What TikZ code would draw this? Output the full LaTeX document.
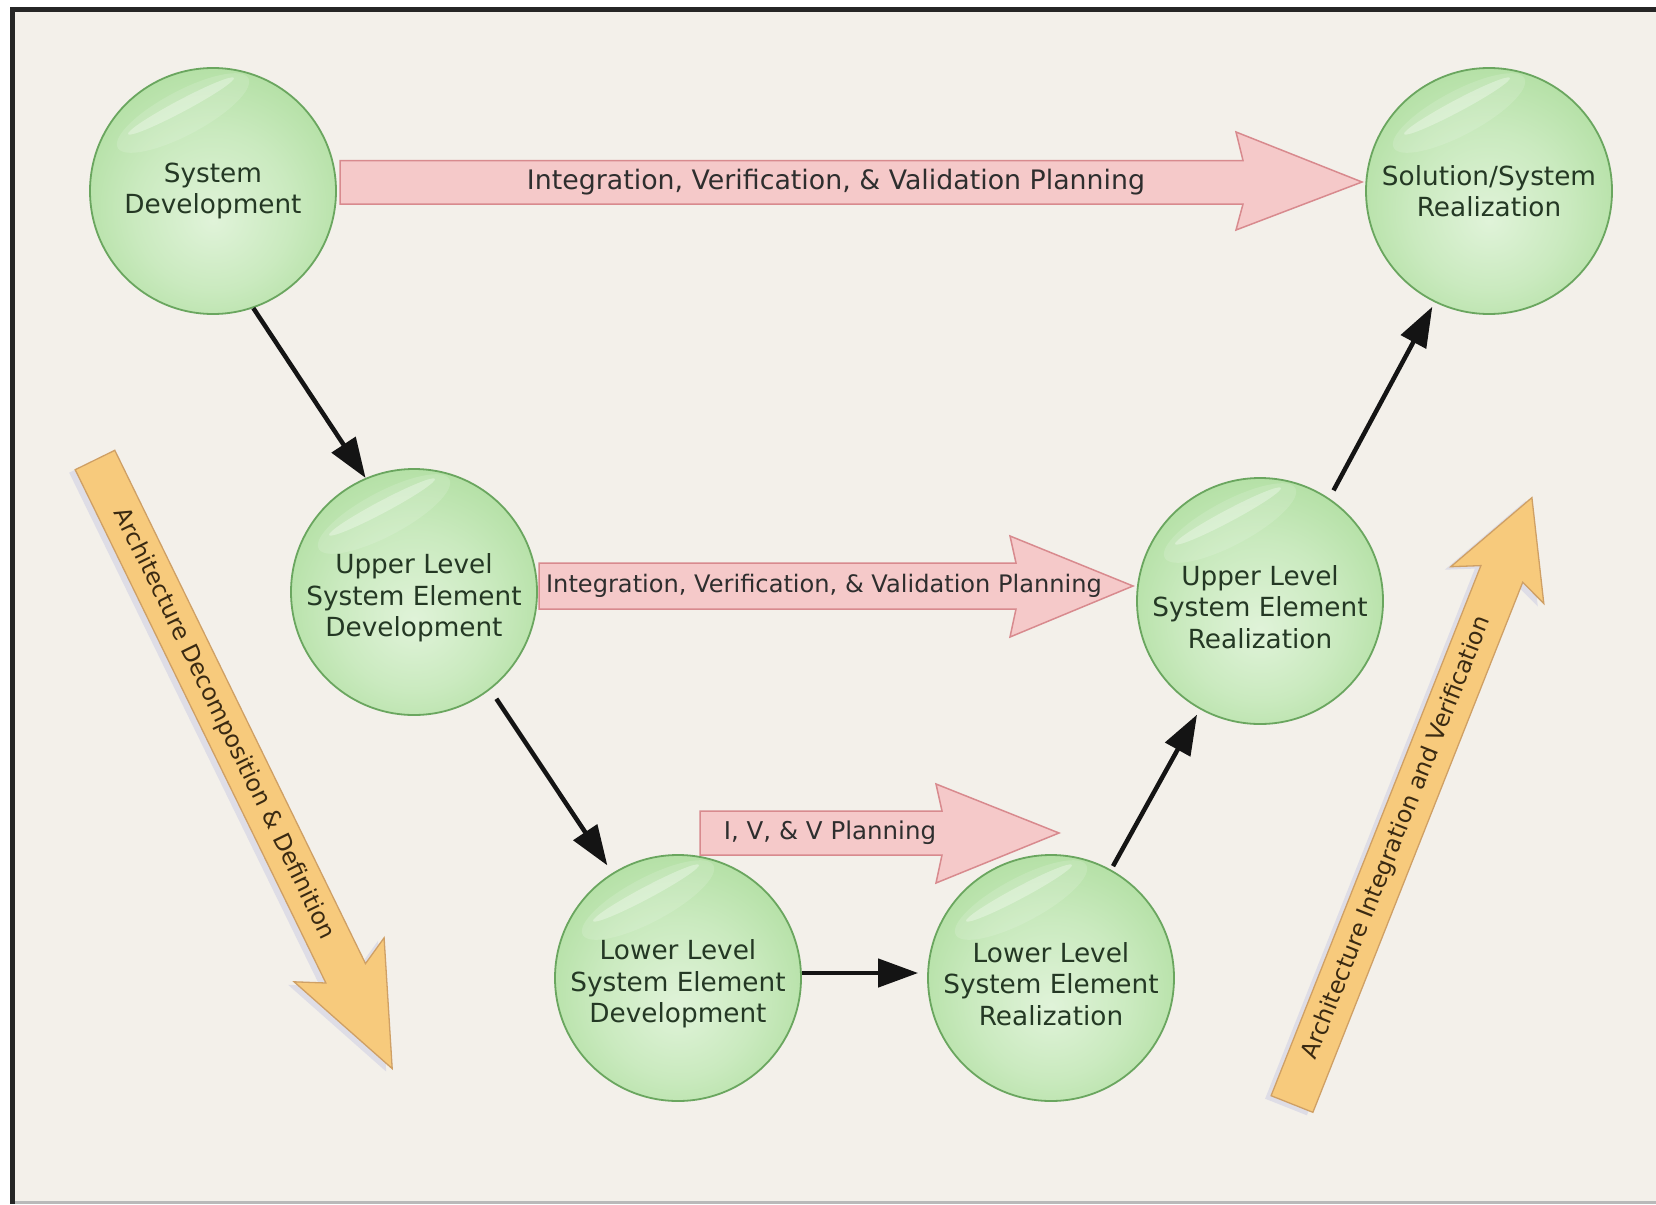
\documentclass[tikz,border=0pt]{standalone}
\usepackage{fontspec}
\setmainfont{DejaVu Sans}
\usetikzlibrary{arrows.meta,calc}
\definecolor{bgc}{HTML}{F3F0EA}
\definecolor{framec}{HTML}{262626}
\definecolor{ballA}{HTML}{E0F3D9}
\definecolor{ballB}{HTML}{CAEABF}
\definecolor{ballC}{HTML}{A6DA95}
\definecolor{ballD}{HTML}{8CCD7B}
\definecolor{ballrim}{HTML}{6AA65F}
\definecolor{txtgreen}{HTML}{243824}
\definecolor{pinkfill}{HTML}{F5C9C9}
\definecolor{pinkrim}{HTML}{D88A8E}
\definecolor{orfill}{HTML}{F7CA7C}
\definecolor{orrim}{HTML}{CFA065}
\definecolor{shadowc}{HTML}{DEDDE6}
\definecolor{arrowk}{HTML}{141414}
\definecolor{txtdark}{HTML}{2E2E2E}
\definecolor{txtbrown}{HTML}{3A2A12}
\pgfdeclareradialshading{ballshade}{\pgfpoint{0bp}{-6bp}}{color(0bp)=(ballA); color(16bp)=(ballB); color(36bp)=(ballC); color(50bp)=(ballD)}
\newcommand\glossball[1]{%
  \fill[white, fill opacity=0.14, shift={($(#1.center)+(-30,-78)$)}, rotate=28] (0,0) ellipse [x radius=74pt, y radius=22pt];
  \fill[white, fill opacity=0.32, shift={($(#1.center)+(-32,-85)$)}, rotate=28] (0,0) ellipse [x radius=60pt, y radius=6pt];
}
\begin{document}
\begin{tikzpicture}[x=1pt,y=-1pt,
  ball/.style={circle, minimum size=246pt, inner sep=0pt, draw=ballrim, line width=1.8pt, shading=ballshade},
  balltext/.style={align=center, font=\fontsize{26.3}{31.5}\selectfont, text=txtgreen, inner sep=0pt},
  pinkarrow/.style={fill=pinkfill, draw=pinkrim, line width=1.5pt, line join=miter},
  orarrow/.style={fill=orfill, draw=orrim, line width=1.3pt, line join=miter},
  pinktext/.style={text=txtdark, inner sep=0pt},
  ortext/.style={text=txtbrown, inner sep=0pt, font=\fontsize{23.6}{27}\selectfont},
  conn/.style={line width=4.5pt, draw=arrowk, -{Triangle[length=40pt,width=28pt]}}]
\useasboundingbox (0,0) rectangle (1656,1204);
% frame and background
\fill[white] (0,0) rectangle (1656,1204);
\fill[bgc] (15,12) rectangle (1656,1201);
\fill[gray!55] (15,1201) rectangle (1656,1204);
\fill[framec] (10,7) rectangle (15,1204);
\fill[framec] (10,7) rectangle (1656,12);

% orange arrows (shadow + arrow)
\fill[shadowc] (108.8,453.3) -- (359.5,966.6) -- (378.1,940.8) -- (386.2,1071.6) -- (288.1,984.8) -- (319.9,986) -- (69.2,472.7) -- cycle;
\draw[orarrow] (114.8,450.3) -- (365.5,963.6) -- (384.1,937.8) -- (392.2,1068.6) -- (294.1,981.8) -- (325.9,983) -- (75.2,469.7) -- cycle;
\node[ortext, rotate=-64] (adtext) at (224,724) {Architecture Decomposition \& Definition};

\fill[shadowc] (1306.9,1115.3) -- (1516.7,585.2) -- (1537.8,606.5) -- (1525.9,500.6) -- (1444.8,569.7) -- (1474.9,568.6) -- (1265.1,1098.7) -- cycle;
\draw[orarrow] (1312.9,1112.3) -- (1522.7,582.2) -- (1543.8,603.5) -- (1531.9,497.6) -- (1450.8,566.7) -- (1480.9,565.6) -- (1271.1,1095.7) -- cycle;
\node[ortext, rotate=68.4] (aitext) at (1397,838) {Architecture Integration and Verification};

% pink planning arrows
\draw[pinkarrow] (340,160.5) -- (1243,160.5) -- (1236,132) -- (1362,182) -- (1236,230) -- (1243,204) -- (340,204) -- cycle;
\node[pinktext, font=\fontsize{26.8}{30}\selectfont] (p1) at (836,182) {Integration, Verification, \& Validation Planning};

\draw[pinkarrow] (539,563) -- (1016,563) -- (1010,536) -- (1133,586) -- (1010,637) -- (1016,609) -- (539,609) -- cycle;
\node[pinktext, font=\fontsize{24.1}{28}\selectfont] (p2) at (824,586) {Integration, Verification, \& Validation Planning};

\draw[pinkarrow] (700,811) -- (942,811) -- (936,784) -- (1059,833) -- (936,883) -- (942,855) -- (700,855) -- cycle;
\node[pinktext, font=\fontsize{24.5}{28}\selectfont] (p3) at (830,833) {I, V, \& V Planning};

% balls
\node[ball] (SD)  at (213,191) {};
\node[ball] (SSR) at (1489,191) {};
\node[ball] (ULD) at (414,592) {};
\node[ball] (ULR) at (1260,601) {};
\node[ball] (LLD) at (678,978) {};
\node[ball] (LLR) at (1051,978) {};
\glossball{SD}\glossball{SSR}\glossball{ULD}\glossball{ULR}\glossball{LLD}\glossball{LLR}

\node[balltext] (SDt)  at (SD.center)  {System\\Development};
\node[balltext] (SSRt) at (SSR.center) {Solution/System\\Realization};
\node[balltext] (ULDt) at ([yshift=-6pt]ULD.center) {Upper Level\\System Element\\Development};
\node[balltext] (ULRt) at ([yshift=-6pt]ULR.center) {Upper Level\\System Element\\Realization};
\node[balltext] (LLDt) at ([yshift=-6pt]LLD.center) {Lower Level\\System Element\\Development};
\node[balltext] (LLRt) at ([yshift=-6pt]LLR.center) {Lower Level\\System Element\\Realization};

% connectors
\draw[conn] (SD.-71) -- (ULD.113);
\draw[conn, shorten <=11pt, shorten >=9pt] (ULD.-52) -- (LLD.122);
\draw[conn, shorten >=9pt] ([yshift=5pt]LLD.east) -- ([yshift=5pt]LLR.west);
\draw[conn, shorten <=4pt, shorten >=6pt] (LLR.61) -- (ULR.-119);
\draw[conn, shorten <=9pt, shorten >=5pt] (ULR.56) -- (SSR.-116);
\end{tikzpicture}
\end{document}
